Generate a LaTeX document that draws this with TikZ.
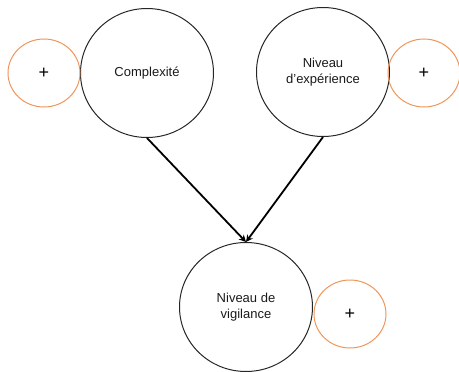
\documentclass[tikz,border=0pt]{standalone}
\usepackage{fontspec}
\setmainfont{Liberation Sans}
\usetikzlibrary{shapes.geometric,arrows.meta}
\definecolor{plusorange}{RGB}{240,150,90}
\tikzset{
  bigc/.style={ellipse,draw=black!85,line width=1pt,minimum width=133pt,minimum height=129pt,inner sep=0pt,align=center,font=\fontsize{13}{16}\selectfont,text=black!90},
  plusc/.style={ellipse,draw=plusorange,line width=1pt,minimum width=72pt,minimum height=68pt,inner sep=0pt,font=\fontsize{18}{18}\selectfont},
  arr/.style={line width=1.8pt,-{Stealth[length=7pt,width=7pt]}}
}
\begin{document}
\begin{tikzpicture}[x=1pt,y=-1pt]
\useasboundingbox (0,0) rectangle (459,372);
\node[bigc] (cx) at (147,73) {Complexité};
\node[plusc] (p1) at (44,73) {+};
\node[bigc] (ne) at (323,72) {Niveau\\d’expérience};
\node[plusc] (p2) at (424,73) {+};
\node[bigc] (vi) at (246,307) {Niveau de\\vigilance};
\node[plusc] (p3) at (350,314) {+};
\draw[arr] (cx.south) -- (vi.north);
\draw[arr] (ne.south) -- (vi.north);
\end{tikzpicture}
\end{document}
